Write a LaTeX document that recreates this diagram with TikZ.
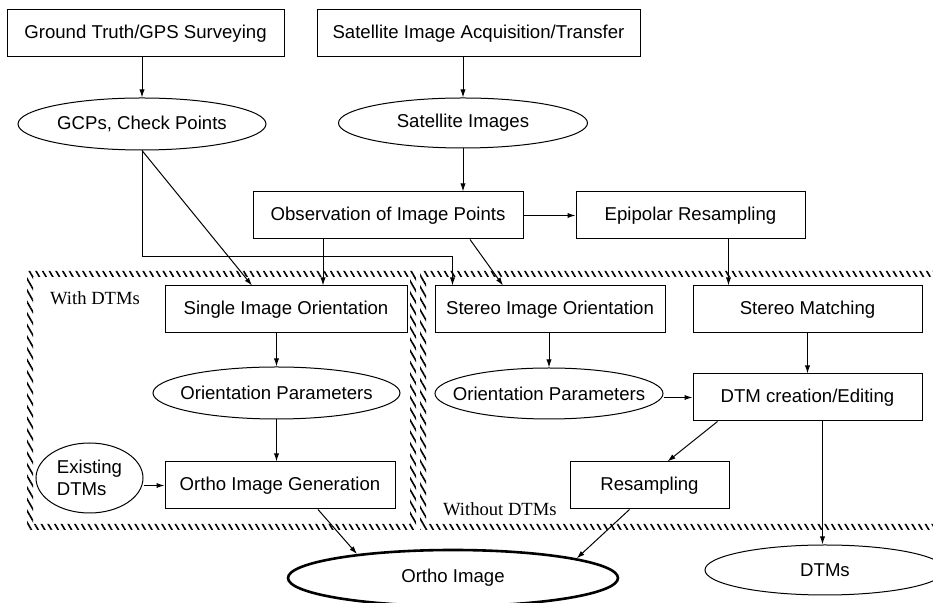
\documentclass[tikz,border=0pt]{standalone}
\usepackage{fontspec}
\setmainfont{Liberation Sans}
\newfontfamily\framefont{Liberation Serif}
\usetikzlibrary{shapes.geometric,arrows.meta,patterns.meta}

\begin{document}
\begin{tikzpicture}[x=0.5pt, y=-0.5pt, line width=0.5pt,
    >={Latex[length=4pt,width=2.6pt]},
    font=\fontsize{9.3}{11}\selectfont,
    box/.style={draw, rectangle, minimum width=#1*0.5pt, minimum height=23.5pt},
    oval/.style n args={2}{draw, ellipse, inner xsep=-30pt, inner ysep=0pt,
        minimum width=#1*0.5pt, minimum height=#2*0.5pt},
    hatchband/.style={pattern={Lines[angle=-60, distance=2.9pt, line width=0.8pt]},
        even odd rule},
    framelabel/.style={anchor=west, font=\framefont\fontsize{9.3}{11}\selectfont}]
    \useasboundingbox (0,0) rectangle (933,603);

    % Hatched frames around the two processing chains
    \fill[hatchband] (27,271) rectangle (416,530) (33,277) rectangle (410,524);
    \fill[hatchband] (420,271) rectangle (960,530) (426,277) rectangle (954,524);
    \node[framelabel] (withlbl) at (43,298) {With DTMs};
    \node[framelabel] (withoutlbl) at (436,509) {Without DTMs};

    % Inputs
    \node[box=277] (gps) at (145.5,33.5) {Ground Truth/GPS Surveying};
    \node[box=323] (acq) at (478.5,33.5) {Satellite Image Acquisition/Transfer};
    \node[oval={248}{52}] (gcp) at (142,124) {GCPs, Check Points};
    \node[oval={249}{50}] (sat) at (463,123) {Satellite Images};
    \node[box=270] (obs) at (388,215.5) {Observation of Image Points};
    \node[box=229] (epi) at (690.5,215.5) {Epipolar Resampling};

    % With DTMs
    \node[box=242] (sio) at (286,309.5) {Single Image Orientation};
    \node[oval={247}{52}] (opl) at (276.5,393) {Orientation Parameters};
    \node[oval={107}{70}, align=left] (edt) at (89.5,478) {Existing\\DTMs};
    \node[box=230] (oig) at (280,485.5) {Ortho Image Generation};

    % Without DTMs
    \node[box=230] (sto) at (550,309.5) {Stereo Image Orientation};
    \node[box=229] (stm) at (807.5,309.5) {Stereo Matching};
    \node[oval={228}{51}] (opr) at (549,393.5) {Orientation Parameters};
    \node[box=229] (dtc) at (807.5,397.5) {DTM creation/Editing};
    \node[box=159] (res) at (649.5,485.5) {Resampling};

    % Products
    \node[oval={330}{56}, line width=1.3pt] (ort) at (453,578) {Ortho Image};
    \node[oval={240}{50}] (dtm) at (825,570) {DTMs};

    % Arrows
    \draw[->] (gps.south -| gcp.north) -- (gcp.north);
    \draw[->] (acq.south -| sat.north) -- (sat.north);
    \draw[->] (sat.south) -- (sat.south |- obs.north);
    \draw[->] (obs.east) -- (epi.west);
    \draw[->] ([shift={(38,0)}]epi.south) coordinate (e1) -- (e1 |- stm.north);
    \draw[->] (gcp.south) -- ([shift={(-34,0)}]sio.north);
    \coordinate (gcpin) at ([shift={(18,0)}]sto.north west);
    \draw[->] (gcp.south) |- ([shift={(0,-29)}]gcpin) -- (gcpin);
    \draw[->] ([shift={(-65,0)}]obs.south) coordinate (o1) -- (o1 |- sio.north);
    \draw[->] ([shift={(82,0)}]obs.south) -- ([shift={(-47,0)}]sto.north);
    \draw[->] (opl.north |- sio.south) -- (opl.north);
    \draw[->] (opl.south) -- (opl.south |- oig.north);
    \draw[->] (oig.west -| edt.east) -- (oig.west);
    \draw[->] (opr.north |- sto.south) -- (opr.north);
    \draw[->] (dtc.west -| opr.east) -- (dtc.west);
    \draw[->] (stm.south) -- (dtc.north);
    \draw[->] ([shift={(-90,0)}]dtc.south) -- ([shift={(18,0)}]res.north);
    \draw[->] ([shift={(15,0)}]dtc.south) coordinate (d1) -- (d1 |- dtm.north);
    \draw[->] ([shift={(38,0)}]oig.south) -- (ort.166);
    \draw[->] ([shift={(-20,0)}]res.south) -- (ort.9);
\end{tikzpicture}
\end{document}
